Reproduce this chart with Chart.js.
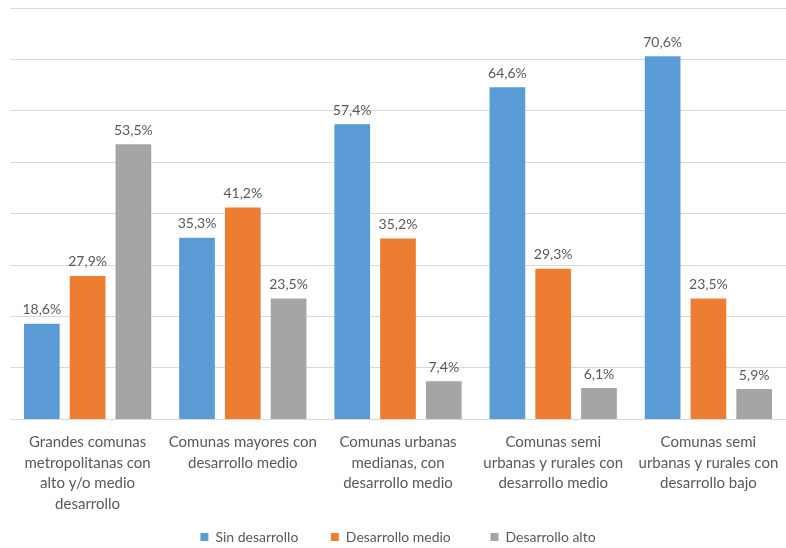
<!DOCTYPE html>
<html>
<head>
<meta charset="utf-8">
<script src="https://cdn.jsdelivr.net/npm/chart.js@4"></script>
<style>
  html, body { margin: 0; padding: 0; background: #fff; }
  #wrap { width: 786px; height: 548px; position: relative; }
</style>
</head>
<body>
<div id="wrap"><canvas id="chart"></canvas></div>
<script>
const categories = [
  ["Grandes comunas", "metropolitanas con", "alto y/o medio", "desarrollo"],
  ["Comunas mayores con", "desarrollo medio"],
  ["Comunas urbanas", "medianas, con", "desarrollo medio"],
  ["Comunas semi", "urbanas y rurales con", "desarrollo medio"],
  ["Comunas semi", "urbanas y rurales con", "desarrollo bajo"]
];
const seriesNames = ["Sin desarrollo", "Desarrollo medio", "Desarrollo alto"];
const sinDesarrollo   = [18.6, 35.3, 57.4, 64.6, 70.6];
const desarrolloMedio = [27.9, 41.2, 35.2, 29.3, 23.5];
const desarrolloAlto  = [53.5, 23.5, 7.4, 6.1, 5.9];
const colors = ["#5b9bd5", "#ed7d31", "#a5a5a5"];
const legendGaps = [6, 8, 0]; // trailing spaces after each legend entry

const FONT = "Lato, 'Open Sans', sans-serif";
const TEXT = "#595959";

// values above each bar, "12,3%"
const barLabels = {
  id: "barLabels",
  afterDatasetsDraw(chart) {
    const ctx = chart.ctx;
    ctx.save();
    ctx.font = "14px " + FONT;
    ctx.fillStyle = TEXT;
    ctx.textAlign = "center";
    ctx.textBaseline = "bottom";
    chart.data.datasets.forEach((ds, i) => {
      chart.getDatasetMeta(i).data.forEach((bar, j) => {
        const txt = ds.data[j].toFixed(1).replace(".", ",") + "%";
        ctx.fillText(txt, bar.x, bar.y - 7);
      });
    });
    ctx.restore();
  }
};

const allSeries = [sinDesarrollo, desarrolloMedio, desarrolloAlto];

new Chart(document.getElementById("chart"), {
  type: "bar",
  data: {
    labels: categories,
    datasets: allSeries.map((vals, i) => ({
      label: seriesNames[i],
      data: vals,
      backgroundColor: colors[i],
      categoryPercentage: 0.885,
      barPercentage: 0.78
    }))
  },
  options: {
    responsive: true,
    maintainAspectRatio: false,
    animation: false,
    layout: { padding: { top: 8, left: 10, right: 0, bottom: -6 } },
    plugins: {
      legend: {
        position: "bottom",
        labels: {
          boxWidth: 8,
          boxHeight: 8,
          padding: 11,
          color: TEXT,
          font: { family: FONT, size: 14 },
          // a bit of extra room between the items, like the original
          generateLabels(chart) {
            const items = Chart.defaults.plugins.legend.labels.generateLabels(chart);
            items.forEach((it, i) => { it.text = it.text + " ".repeat(legendGaps[i]); });
            return items;
          }
        }
      },
      tooltip: { enabled: false }
    },
    scales: {
      x: {
        grid: { display: false },
        border: { color: "#d9d9d9" },
        ticks: {
          color: TEXT,
          font: { family: FONT, size: 15, lineHeight: 1.36 },
          maxRotation: 0,
          autoSkip: false,
          padding: 5
        }
      },
      y: {
        min: 0,
        max: 80,
        ticks: { display: false, stepSize: 10 },
        grid: { color: "#d9d9d9", drawTicks: false },
        border: { display: false }
      }
    }
  },
  plugins: [barLabels]
});
</script>
</body>
</html>
